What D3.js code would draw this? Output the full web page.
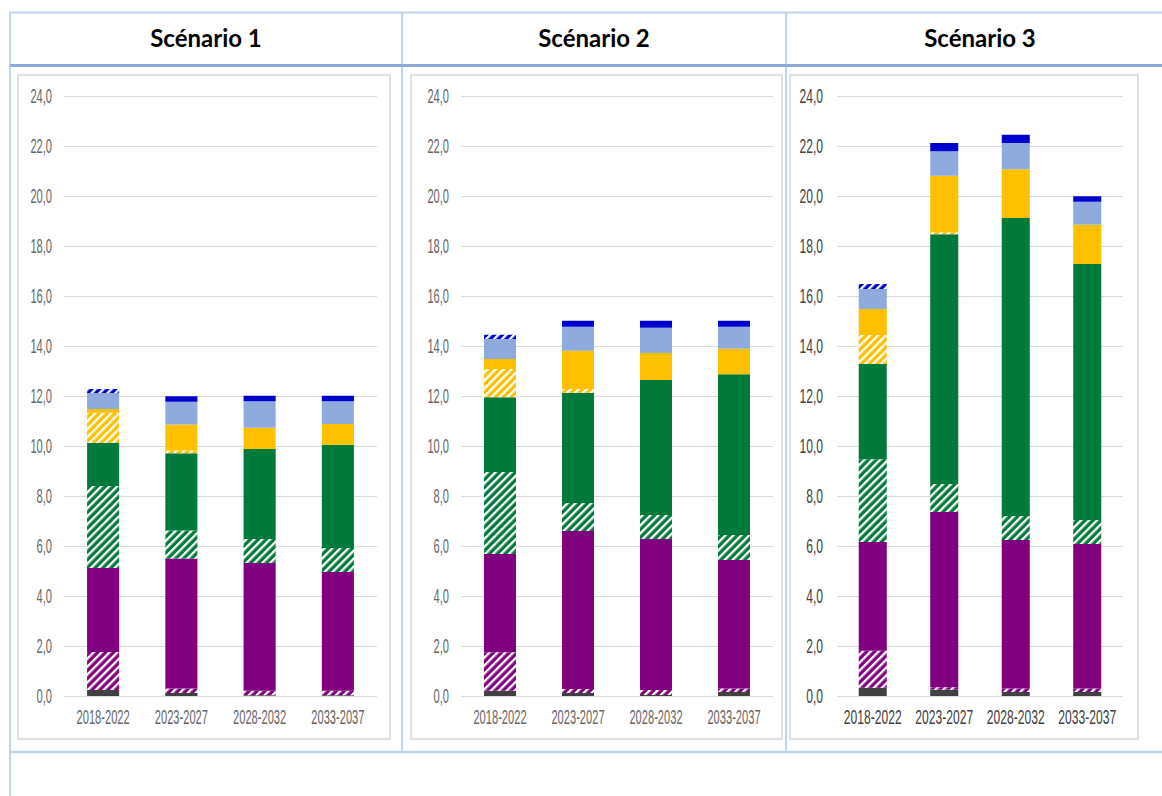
<!DOCTYPE html>
<html lang="fr">
<head>
<meta charset="UTF-8">
<title>Scénarios</title>
<script src="https://cdn.jsdelivr.net/npm/d3@7"></script>
<style>
  body { margin: 0; background: #fff; }
  .tickTxt { font-family: "Liberation Sans", Arial, sans-serif; font-size: 19.5px; }
  .title { font-family: Lato, "Open Sans", sans-serif; font-weight: bold; font-size: 24px; fill: #000; }
</style>
</head>
<body>
<div id="chart"></div>
<script>
// ---- data ----
var categories = ['2018-2022', '2023-2027', '2028-2032', '2033-2037'];
var seriesNames = ['grisFonce', 'violetHachure', 'violet', 'vertHachure', 'vert',
                   'jauneHachure', 'jaune', 'bleuClair', 'bleuHachure', 'bleu'];
var scenarioTitles = ['Scénario 1', 'Scénario 2', 'Scénario 3'];
var yTicks = [0, 2, 4, 6, 8, 10, 12, 14, 16, 18, 20, 22, 24];

// one row per series (bottom to top), one column per period
var scenario1 = [
  [0.24, 0.12, 0.03, 0.03],
  [1.52, 0.18, 0.18, 0.18],
  [3.36, 5.20, 5.11, 4.75],
  [3.28, 1.12, 0.96, 0.96],
  [1.73, 3.09, 3.60, 4.13],
  [1.20, 0.11, 0,    0   ],
  [0.15, 1.04, 0.85, 0.83],
  [0.64, 0.91, 1.06, 0.91],
  [0.16, 0,    0,    0   ],
  [0,    0.22, 0.22, 0.22]
];
var scenario2 = [
  [0.21, 0.12, 0.04, 0.16],
  [1.54, 0.16, 0.20, 0.14],
  [3.93, 6.32, 6.04, 5.14],
  [3.28, 1.12, 0.96, 1.00],
  [2.99, 4.41, 5.40, 6.43],
  [1.13, 0.15, 0,    0   ],
  [0.40, 1.53, 1.08, 1.02],
  [0.80, 0.96, 1.01, 0.88],
  [0.17, 0,    0,    0   ],
  [0,    0.24, 0.28, 0.24]
];
var scenario3 = [
  [0.33, 0.25, 0.16, 0.16],
  [1.48, 0.10, 0.14, 0.14],
  [4.35, 7.01, 5.94, 5.78],
  [3.31, 1.12, 0.96, 0.96],
  [3.81, 9.99, 11.92, 10.24],
  [1.16, 0.08, 0,    0   ],
  [1.04, 2.26, 1.95, 1.57],
  [0.80, 0.98, 1.05, 0.92],
  [0.20, 0,    0,    0   ],
  [0,    0.33, 0.33, 0.22]
];
var scenarios = [scenario1, scenario2, scenario3];

// ---- styles ----
var width = 1162, height = 796;
var purple = '#800080', green = '#007a3b', yellow = '#ffc000', lblue = '#8faadc', blue = '#0000cc';
var fills = ['#404040', 'url(#h-purple)', purple, 'url(#h-green)', green,
             'url(#h-yellow)', yellow, lblue, 'url(#h-blue)', blue];

var panels = [
  { box: [18, 75, 390, 739],   gx: [64, 377],   pad: 0.59,  tp: 12, sx: 0.57, col: '#666666' },
  { box: [411, 75, 782, 739],  gx: [461, 773],  pad: 0.59,  tp: 12, sx: 0.57, col: '#666666' },
  { box: [790, 75, 1138, 739], gx: [837, 1123], pad: 0.608, tp: 14, sx: 0.62, col: '#404040' }
];
var cols = [10, 402, 786, 1174];

var svg = d3.select('#chart').append('svg')
  .attr('width', width).attr('height', height)
  .style('display', 'block');

svg.append('rect').attr('width', width).attr('height', height).attr('fill', '#fff');

// hatch patterns
var defs = svg.append('defs');
[['purple', purple], ['green', green], ['yellow', yellow], ['blue', blue]].forEach(function(p){
  var pat = defs.append('pattern')
    .attr('id', 'h-' + p[0])
    .attr('patternUnits', 'userSpaceOnUse')
    .attr('width', 5.6).attr('height', 5.6)
    .attr('patternTransform', 'rotate(45)');
  pat.append('rect').attr('width', 5.6).attr('height', 5.6).attr('fill', p[1]);
  pat.append('rect').attr('x', 0).attr('width', 2.3).attr('height', 5.6).attr('fill', '#fff');
});

// table lines
var tbl = svg.append('g');
tbl.append('line').attr('x1', 10).attr('x2', width).attr('y1', 12.5).attr('y2', 12.5)
  .attr('stroke', '#bdd7ee').attr('stroke-width', 2);
tbl.append('line').attr('x1', 10).attr('x2', width).attr('y1', 752).attr('y2', 752)
  .attr('stroke', '#bdd7ee').attr('stroke-width', 2.5);
tbl.append('line').attr('x1', 10).attr('x2', 10).attr('y1', 12).attr('y2', height)
  .attr('stroke', '#bdd7ee').attr('stroke-width', 2);
[402, 786].forEach(function(x){
  tbl.append('line').attr('x1', x).attr('x2', x).attr('y1', 12).attr('y2', 752)
    .attr('stroke', '#bdd7ee').attr('stroke-width', 2);
});
tbl.append('line').attr('x1', 10).attr('x2', width).attr('y1', 65.5).attr('y2', 65.5)
  .attr('stroke', '#8eaadb').attr('stroke-width', 3);

scenarioTitles.forEach(function(t, i){
  svg.append('text').attr('class', 'title')
    .attr('x', (cols[i] + cols[i + 1]) / 2).attr('y', 46.5)
    .attr('text-anchor', 'middle')
    .text(t);
});

var y = d3.scaleLinear().domain([0, 24]).range([696, 96]);
var stack = d3.stack().keys(seriesNames);

panels.forEach(function(p, pi){
  var g = svg.append('g');
  g.append('rect')
    .attr('x', p.box[0]).attr('y', p.box[1])
    .attr('width', p.box[2] - p.box[0]).attr('height', p.box[3] - p.box[1])
    .attr('fill', '#fff').attr('stroke', '#d9d9d9').attr('stroke-width', 1.5);

  var x = d3.scaleBand().domain(categories)
    .range(p.gx).paddingInner(p.pad).paddingOuter(p.pad / 2);

  // y axis + grid
  var yAxis = d3.axisLeft(y).tickValues(yTicks)
    .tickSize(-(p.gx[1] - p.gx[0])).tickPadding(0)
    .tickFormat(function(d){ return d3.format('.1f')(d).replace('.', ','); });
  var yg = g.append('g').attr('transform', 'translate(' + p.gx[0] + ',0)').call(yAxis);
  yg.select('.domain').remove();
  yg.selectAll('line').attr('stroke', '#d9d9d9');
  yg.selectAll('text').attr('class', 'tickTxt').attr('fill', p.col)
    .attr('x', -p.tp / p.sx).attr('transform', 'scale(' + p.sx + ',1)');

  // bars
  var table = categories.map(function(c, ci){
    var row = { cat: c };
    seriesNames.forEach(function(s, si){ row[s] = scenarios[pi][si][ci]; });
    return row;
  });
  var layers = stack(table);
  g.selectAll('.layer').data(layers).enter().append('g')
    .attr('class', 'layer')
    .attr('fill', function(d, i){ return fills[i]; })
    .selectAll('rect').data(function(d){ return d; }).enter().append('rect')
    .attr('x', function(d){ return x(d.data.cat); })
    .attr('width', x.bandwidth())
    .attr('y', function(d){ return y(d[1]); })
    .attr('height', function(d){ return Math.max(0, y(d[0]) - y(d[1])); });

  // x axis labels
  var xg = g.append('g').attr('transform', 'translate(0,696)')
    .call(d3.axisBottom(x).tickSize(0).tickPadding(14.5));
  xg.select('.domain').remove();
  xg.selectAll('text').attr('class', 'tickTxt').attr('fill', p.col)
    .attr('transform', 'scale(' + p.sx + ',1)');
});
</script>
</body>
</html>
